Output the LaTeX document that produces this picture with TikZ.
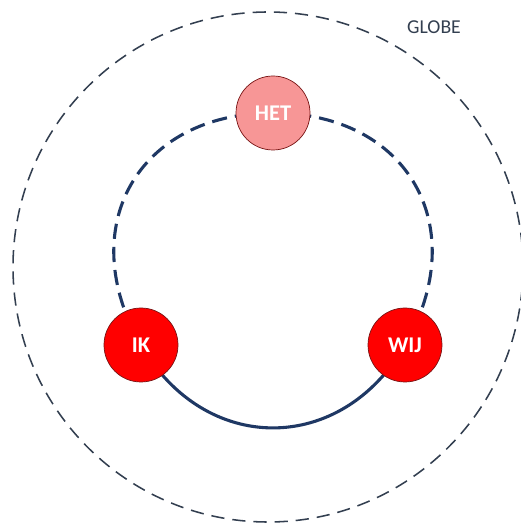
\documentclass[tikz,border=0pt]{standalone}
\usepackage{fontspec}
\setmainfont{Carlito}
\usepackage{tikz}
\usetikzlibrary{backgrounds}
\definecolor{donkerblauw}{RGB}{31,56,100}
\definecolor{globegrijs}{RGB}{51,63,80}
\definecolor{roze}{RGB}{247,150,150}
\definecolor{rand}{RGB}{120,20,20}

\tikzset{
  bol/.style={circle, draw=rand, line width=0.5pt, minimum size=1.85cm, inner sep=0pt,
    text=white, font=\bfseries\fontsize{16}{18}\selectfont},
  lijn/.style={donkerblauw, line width=2.2pt},
  stippel/.style={lijn, dash pattern=on 0.38cm off 0.2cm},
}

\begin{document}
\begin{tikzpicture}
        \useasboundingbox (0,0) rectangle (13.025,13.1);
        \clip (0,0) rectangle (13.025,13.1);

        %GLOBE
        \coordinate (centrum) at (6.7,6.425);
        \draw[globegrijs, line width=1.1pt, dash pattern=on 0.33cm off 0.2cm] (centrum) circle (6.375);
        \node[text=globegrijs, font=\fontsize{14}{16}\selectfont] (globe) at (10.85,12.425) {GLOBE};

        %BOLLEN
        \node[bol, fill=roze] (het) at (6.825,10.275) {HET};
        \node[bol, fill=red] (ik) at (3.525,4.475) {IK};
        \node[bol, fill=red] (wij) at (10.125,4.475) {WIJ};

        %VERBINDINGEN
        \begin{scope}[on background layer]
            \draw[stippel] (het.center) to[out=180, in=120, looseness=1.3] (ik.center);
            \draw[stippel] (het.center) to[out=0, in=60, looseness=1.3] (wij.center);
            \draw[lijn] (ik.center) to[out=-60, in=-120, looseness=1.24] (wij.center);
        \end{scope}
\end{tikzpicture}
\end{document}
